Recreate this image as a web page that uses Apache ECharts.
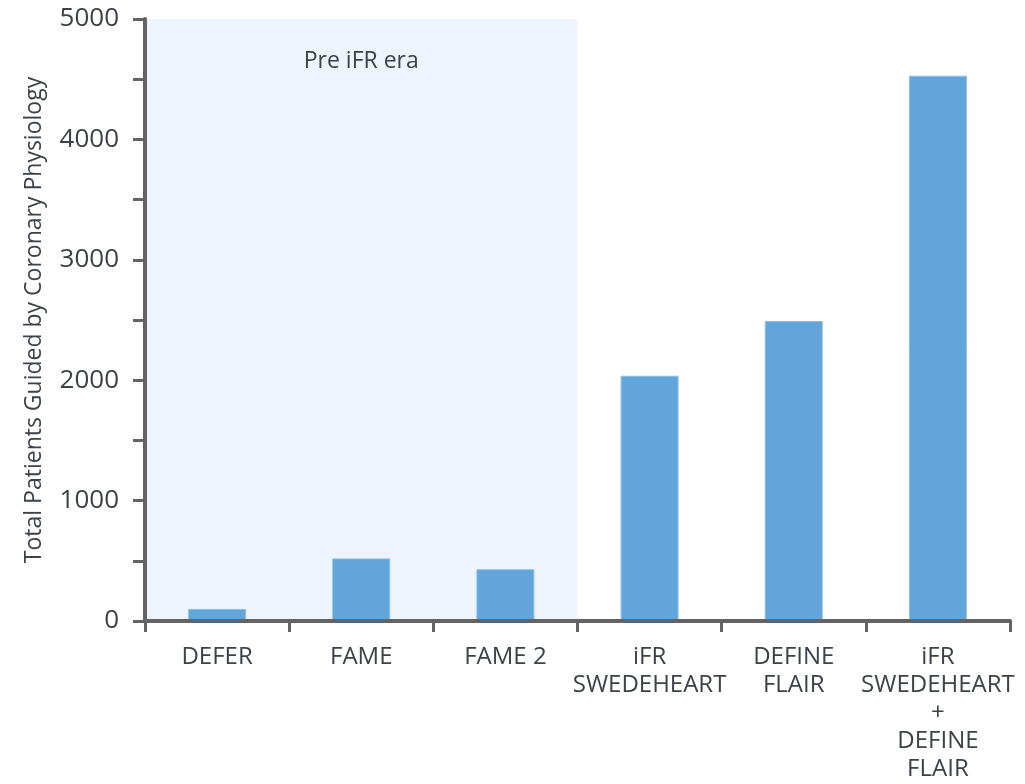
<!DOCTYPE html>
<html>
<head>
<meta charset="utf-8">
<script src="https://cdn.jsdelivr.net/npm/echarts@6/dist/echarts.min.js"></script>
<style>
  html, body { margin: 0; padding: 0; background: #ffffff; }
  #chart { width: 1025px; height: 784px; }
</style>
</head>
<body>
<div id="chart"></div>
<script>
// Trials and the number of patients whose treatment was guided by coronary physiology
const categories = ['DEFER', 'FAME', 'FAME 2', 'iFR\nSWEDEHEART', 'DEFINE\nFLAIR', 'iFR\nSWEDEHEART\n+\nDEFINE\nFLAIR'];
const patients = [100, 520, 430, 2037, 2492, 4529];
// Shaded background spanning the pre-iFR trials (value = axis max)
const preIfrSpan = [5000, 5000, 5000, null, null, null];
const preIfrLabel = 'Pre iFR era';
const yTicks = { min: 0, max: 5000, step: 500, labelStep: 1000 };

const font = '"Open Sans", "DejaVu Sans", sans-serif';
const axisColor = '#636363';
const textColor = '#3d4148';

const chart = echarts.init(document.getElementById('chart'), null, { renderer: 'canvas' });

chart.setOption({
  backgroundColor: '#ffffff',
  animation: false,
  grid: { left: 145, right: 15, top: 19, bottom: 163, containLabel: false },
  xAxis: [
    {
      type: 'category',
      data: categories,
      boundaryGap: true,
      axisLine: { lineStyle: { color: axisColor, width: 4 } },
      axisTick: { show: true, length: 11, lineStyle: { color: axisColor, width: 3 } },
      axisLabel: {
        color: textColor, fontFamily: font, fontSize: 24, lineHeight: 28,
        margin: 22, interval: 0
      },
      z: 5
    },
    {
      type: 'category',
      data: categories,
      show: false
    }
  ],
  yAxis: {
    type: 'value',
    min: yTicks.min,
    max: yTicks.max,
    interval: yTicks.step,
    name: 'Total Patients Guided by Coronary Physiology',
    nameLocation: 'middle',
    nameGap: 99,
    nameTextStyle: { color: textColor, fontFamily: font, fontSize: 23 },
    axisLine: { show: true, lineStyle: { color: axisColor, width: 4 } },
    axisTick: { show: true, length: 12, lineStyle: { color: axisColor, width: 3 } },
    axisLabel: {
      color: textColor, fontFamily: font, fontSize: 26, margin: 26,
      formatter: v => (v % yTicks.labelStep === 0 ? String(v) : '')
    },
    splitLine: { show: false },
    z: 5
  },
  series: [
    {
      name: 'era',
      type: 'bar',
      xAxisIndex: 1,
      barWidth: '100%',
      silent: true,
      z: 1,
      itemStyle: { color: '#eef4fc' },
      data: preIfrSpan.map((v, i) => i === 1 ? {
        value: v,
        label: {
          show: true, position: 'insideTop', distance: 31,
          formatter: preIfrLabel,
          color: textColor, fontFamily: font, fontSize: 23
        }
      } : v)
    },
    {
      name: 'Patients',
      type: 'bar',
      barWidth: 58,
      z: 3,
      itemStyle: { color: '#61a5da', borderColor: '#8cc0e8', borderWidth: 1 },
      data: patients
    }
  ]
});
</script>
</body>
</html>
